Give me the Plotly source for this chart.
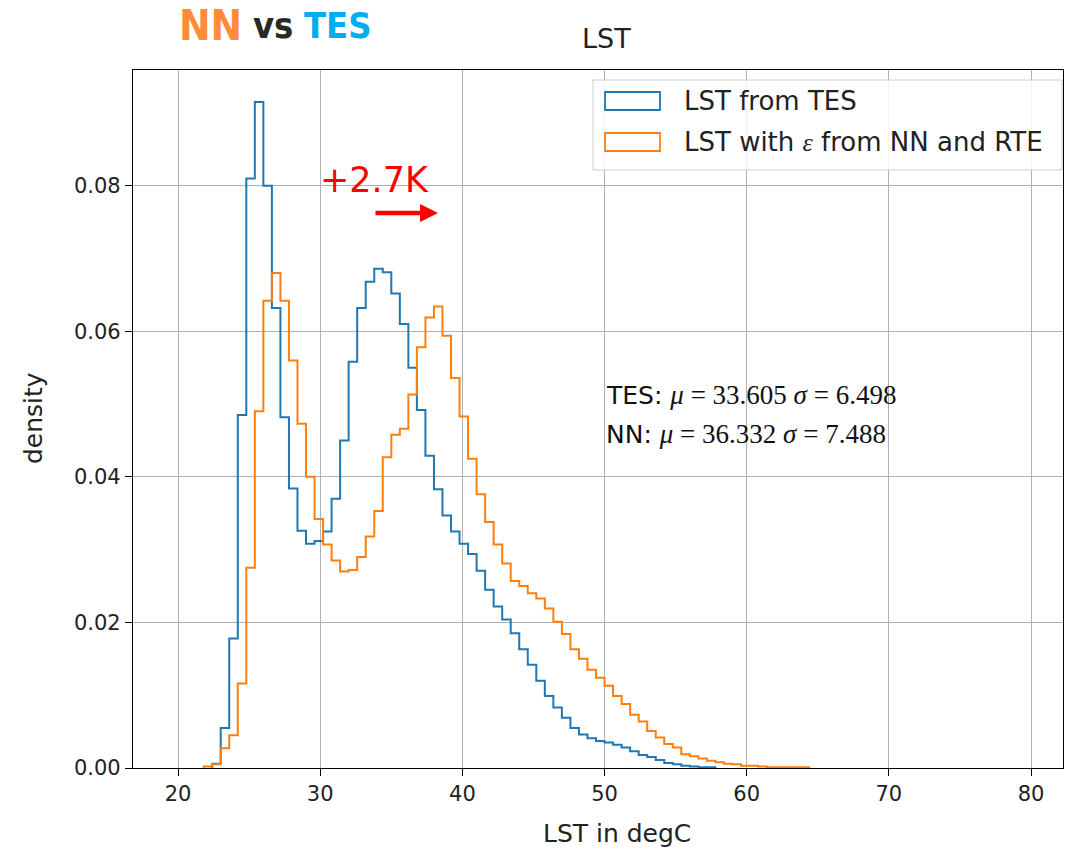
import plotly.graph_objects as go

# ---- data ----
bin_start = 20.0
bin_width = 0.6

tes_density = [0, 0, 0, 0, 0.0006, 0.0055, 0.0178, 0.0485, 0.081, 0.0915,
               0.080, 0.0632, 0.0482, 0.0384, 0.0326, 0.0308, 0.0312, 0.0325, 0.037, 0.0450,
               0.0558, 0.0632, 0.0668, 0.0686, 0.0681, 0.0652, 0.061, 0.0550, 0.0492, 0.0429,
               0.0383, 0.0347, 0.0325, 0.0308, 0.0294, 0.0271, 0.0245, 0.0222, 0.0204, 0.0185,
               0.0163, 0.0142, 0.012, 0.0099, 0.0083, 0.0069, 0.0055, 0.0046, 0.0041, 0.0037,
               0.0035, 0.0032, 0.0028, 0.0023, 0.0018, 0.0015, 0.0011, 0.0007, 0.0005, 0.0003,
               0.0002, 0.0001, 0.0001]

nn_density = [0, 0, 0, 0.0002, 0.0005, 0.0027, 0.0045, 0.0116, 0.0275, 0.049,
              0.0642, 0.068, 0.0642, 0.056, 0.0473, 0.040, 0.0342, 0.0307, 0.0285, 0.027,
              0.0272, 0.029, 0.0318, 0.0353, 0.0427, 0.0458, 0.0466, 0.0513, 0.0578, 0.0619,
              0.0634, 0.0594, 0.0536, 0.0483, 0.0425, 0.0376, 0.0338, 0.0307, 0.0281, 0.0257,
              0.025, 0.024, 0.0233, 0.0219, 0.0201, 0.0184, 0.0163, 0.015, 0.0135, 0.0124,
              0.0113, 0.0099, 0.0088, 0.0073, 0.0064, 0.0051, 0.0042, 0.0033, 0.0028, 0.0019,
              0.0016, 0.0013, 0.001, 0.0008, 0.0006, 0.0005, 0.0003, 0.0003, 0.0002, 0.0001,
              0.0001, 0.0001, 0.0001, 0.0001]

series_names = ["LST from TES", "LST with ε from NN and RTE"]
x_ticks = [20, 30, 40, 50, 60, 70, 80]
y_ticks = [0.00, 0.02, 0.04, 0.06, 0.08]
stats_tes = ("33.605", "6.498")
stats_nn = ("36.332", "7.488")

BLUE = "#1f77b4"
ORANGE = "#ff7f0e"
FONT = "DejaVu Sans"
SERIF = "Liberation Serif"

W, H = 1066, 849
L, R, T, B = 133, 3, 70, 81
PW, PH = W - L - R, H - T - B


def px(x):
    return (x - L) / PW


def py(y):
    return (H - B - y) / PH


def step_xy(dens):
    nz = [i for i, v in enumerate(dens) if v > 0]
    i0, i1 = nz[0], nz[-1]
    xs = [bin_start + i0 * bin_width]
    ys = [0]
    for i in range(i0, i1 + 1):
        xs.append(bin_start + i * bin_width)
        ys.append(dens[i])
    xs.append(bin_start + (i1 + 1) * bin_width)
    ys.append(0)
    return xs, ys


fig = go.Figure()
for dens, col, name in [(tes_density, BLUE, series_names[0]), (nn_density, ORANGE, series_names[1])]:
    xs, ys = step_xy(dens)
    fig.add_trace(go.Scatter(x=xs, y=ys, mode="lines", line=dict(color=col, width=2, shape="hv"),
                             name=name, showlegend=False, hoverinfo="skip"))

axis_common = dict(showgrid=True, gridcolor="#b0b0b0", gridwidth=1, showline=True, linecolor="black",
                   linewidth=1.3, mirror=True, ticks="outside", ticklen=7, tickwidth=1.2, tickcolor="black",
                   zeroline=False, tickfont=dict(family=FONT, size=21, color="#222"))

fig.update_xaxes(range=[16.83, 82.25], tickvals=x_ticks, ticktext=[str(v) for v in x_ticks], **axis_common)
fig.update_yaxes(range=[0, 0.0959], tickvals=y_ticks, ticktext=[f"{v:.2f}" for v in y_ticks], **axis_common)

shapes = []
annotations = []

# legend box
shapes.append(dict(type="rect", xref="paper", yref="paper", x0=px(593), x1=px(1062), y0=py(170), y1=py(80),
                   line=dict(color="#cccccc", width=1), fillcolor="rgba(255,255,255,0.85)", layer="above"))
for (y0, y1), col, txt in [((92, 110), BLUE, series_names[0]),
                           ((133, 151), ORANGE,
                            series_names[1].replace("ε", f"<span style='font-family:{SERIF}'><i>ε</i></span>"))]:
    shapes.append(dict(type="rect", xref="paper", yref="paper", x0=px(605), x1=px(660), y0=py(y1), y1=py(y0),
                       line=dict(color=col, width=1.8), fillcolor="rgba(0,0,0,0)", layer="above"))
    annotations.append(dict(x=px(682), y=py((y0 + y1) / 2), xref="paper", yref="paper", text=txt,
                            showarrow=False, xanchor="left", yanchor="middle",
                            font=dict(family=FONT, size=26, color="#222")))

# title & axis titles
annotations.append(dict(x=px(606), y=py(38), xref="paper", yref="paper", text="LST", showarrow=False,
                        xanchor="center", yanchor="middle", font=dict(family=FONT, size=27, color="#222")))
annotations.append(dict(x=px(617), y=py(833), xref="paper", yref="paper", text="LST in degC", showarrow=False,
                        xanchor="center", yanchor="middle", font=dict(family=FONT, size=25, color="#222")))
annotations.append(dict(x=px(33), y=py(418), xref="paper", yref="paper", text="density", showarrow=False,
                        textangle=-90, xanchor="center", yanchor="middle", font=dict(family=FONT, size=25, color="#222")))


# stats text
def stat_line(label, mu, sig):
    s = f"<span style='font-family:{SERIF};font-size:27px'>"
    return f"{label}: {s}<i>μ</i> = {mu} <i>σ</i> = {sig}</span>"


annotations.append(dict(x=px(604), y=py(395), xref="paper", yref="paper", text=stat_line("TES", *stats_tes),
                        showarrow=False, xanchor="left", yanchor="middle", font=dict(family=FONT, size=25, color="#111")))
annotations.append(dict(x=px(604), y=py(434), xref="paper", yref="paper", text=stat_line("NN", *stats_nn),
                        showarrow=False, xanchor="left", yanchor="middle", font=dict(family=FONT, size=25, color="#111")))

# +2.7K and arrow
annotations.append(dict(x=px(374), y=py(180), xref="paper", yref="paper", text="+2.7K", showarrow=False,
                        xanchor="center", yanchor="middle", font=dict(family="DejaVu Sans", size=35, color="red")))
annotations.append(dict(x=px(438), y=py(213), xref="paper", yref="paper", text="", showarrow=True,
                        ax=-64, ay=0, arrowcolor="red", arrowwidth=4.5, arrowhead=2, arrowsize=0.8))

# NN vs TES header
for txt, col, xl, sz in [("NN", "#ff8c3a", 177, 42), ("vs", "#2b2a1f", 251, 36), ("TES", "#00aeef", 302, 36)]:
    annotations.append(dict(x=px(xl), y=py(26), xref="paper", yref="paper", text=f"<b>{txt}</b>",
                            showarrow=False, xanchor="left", yanchor="middle",
                            font=dict(family="Liberation Sans Narrow, DejaVu Sans Condensed, Roboto", size=sz, color=col)))

fig.update_layout(width=W, height=H, margin=dict(l=L, r=R, t=T, b=B), paper_bgcolor="white",
                  plot_bgcolor="white", shapes=shapes, annotations=annotations, showlegend=False)

fig.write_html("out.html")
